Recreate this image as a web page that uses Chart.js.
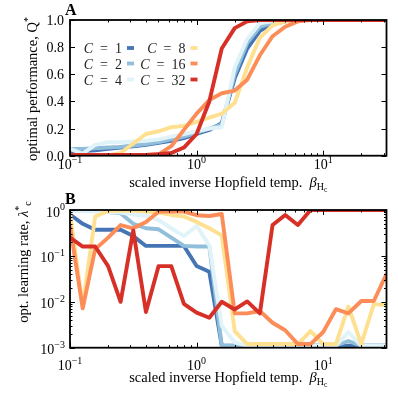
<!DOCTYPE html>
<html>
<head>
<meta charset="utf-8">
<script src="https://cdn.jsdelivr.net/npm/chart.js@4.4.1/dist/chart.umd.min.js"></script>
<style>
  html, body { margin: 0; padding: 0; background: #fff; }
  #wrap { position: relative; width: 398px; height: 398px; overflow: hidden; }
  canvas { position: absolute; left: 0; }
  #cA { top: 0; }
  #cB { top: 188px; }
</style>
</head>
<body>
<div id="wrap">
  <canvas id="cA" width="398" height="198"></canvas>
  <canvas id="cB" width="398" height="210"></canvas>
</div>
<script>
// scaled inverse Hopfield temperature (x for both panels)
var beta = [0.1, 0.126, 0.158, 0.2, 0.251, 0.316, 0.398, 0.501, 0.631, 0.794,
            1.0, 1.26, 1.58, 2.0, 2.51, 3.16, 3.98, 5.01, 6.31, 7.94,
            10.0, 12.6, 15.8, 20.0, 25.1, 31.6];

var groups = ['1', '2', '4', '8', '16', '32'];
var colors = ['#4575b4', '#91bfdb', '#e0f3f8', '#fee090', '#fc8d59', '#d73027'];

// panel A: optimal performance Q*
var perfC1  = [0.03, 0.035, 0.04, 0.05, 0.06, 0.07, 0.08, 0.095, 0.11, 0.13, 0.16, 0.19, 0.24, 0.57, 0.79, 0.92, 0.97, 0.99, 1, 1, 1, 1, 1, 1, 1, 1];
var perfC2  = [0.05, 0.05, 0.055, 0.06, 0.065, 0.075, 0.085, 0.1, 0.12, 0.14, 0.17, 0.2, 0.23, 0.6, 0.83, 0.95, 0.98, 1, 1, 1, 1, 1, 1, 1, 1, 1];
var perfC4  = [0.05, 0.015, 0.08, 0.1, 0.1, 0.105, 0.11, 0.12, 0.14, 0.16, 0.18, 0.2, 0.21, 0.65, 0.86, 0.975, 0.99, 1, 1, 1, 1, 1, 1, 1, 1, 1];
var perfC8  = [0.003, 0.003, 0.003, 0.003, 0.02, 0.09, 0.16, 0.18, 0.21, 0.22, 0.25, 0.28, 0.31, 0.39, 0.65, 0.87, 0.96, 0.99, 1, 1, 1, 1, 1, 1, 1, 1];
var perfC16 = [0.002, 0.002, 0.002, 0.002, 0.002, 0.002, 0.005, 0.01, 0.07, 0.19, 0.31, 0.41, 0.46, 0.48, 0.56, 0.74, 0.88, 0.95, 0.99, 1, 1, 1, 1, 1, 1, 1];
var perfC32 = [0.005, 0.005, 0.005, 0.005, 0.005, 0.005, 0.006, 0.012, 0.02, 0.06, 0.16, 0.4, 0.79, 0.94, 0.99, 1, 1, 1, 1, 1, 1, 1, 1, 1, 1, 1];

// panel B: optimal learning rate lambda*
var lrC1  = [0.8, 0.5, 0.37, 0.37, 0.37, 0.27, 0.165, 0.165, 0.165, 0.165, 0.06, 0.045, 0.0011, 0.0011, 0.0011, 0.0011, 0.0011, 0.0011, 0.0011, 0.0011, 0.0011, 0.0011, 0.0011, 0.0011, 0.0011, 0.0011];
var lrC2  = [1.0, 0.97, 0.95, 0.9, 0.85, 0.5, 0.4, 0.38, 0.25, 0.165, 0.16, 0.16, 0.0011, 0.0011, 0.0011, 0.0011, 0.0011, 0.0011, 0.0011, 0.0011, 0.0011, 0.0011, 0.0014, 0.0011, 0.0011, 0.0011];
var lrC4  = [0.95, 0.95, 0.92, 0.9, 0.88, 0.8, 0.75, 0.6, 0.4, 0.27, 0.45, 0.17, 0.003, 0.0013, 0.0011, 0.0011, 0.0011, 0.0011, 0.0011, 0.0011, 0.0011, 0.0011, 0.0022, 0.0011, 0.0011, 0.0011];
var lrC8  = [0.85, 0.008, 0.72, 0.95, 0.97, 0.97, 0.92, 0.88, 0.78, 0.72, 0.55, 0.4, 0.28, 0.0023, 0.0012, 0.0012, 0.0012, 0.0012, 0.0012, 0.0023, 0.0012, 0.0012, 0.0079, 0.0012, 0.0089, 0.0085];
var lrC16 = [0.45, 0.0072, 0.14, 0.25, 0.47, 0.4, 0.55, 0.92, 0.92, 0.92, 0.77, 0.74, 0.82, 0.0056, 0.0056, 0.0063, 0.0035, 0.0024, 0.0012, 0.0012, 0.0022, 0.0069, 0.0056, 0.0104, 0.0104, 0.04];
var lrC32 = [0.25, 0.16, 0.16, 0.06, 0.01, 0.36, 0.006, 0.06, 0.06, 0.009, 0.0058, 0.0045, 0.01, 0.0068, 0.0102, 0.0056, 0.47, 0.78, 0.47, 1, 1, 1, 1, 1, 1, 1];

// ticks
var betaTicks = [0.1, 1, 10];
var betaTickExp = ['\u22121', '0', '1'];
var perfTicks = [0, 0.2, 0.4, 0.6, 0.8, 1.0];
var perfTickLabels = ['0.0', '0.2', '0.4', '0.6', '0.8', '1.0'];
var lrTicks = [1, 0.1, 0.01, 0.001];
var lrTickExp = ['0', '\u22121', '\u22122', '\u22123'];

var SERIF = '"Liberation Serif", "DejaVu Serif", serif';
function F(size, style) { return (style || '') + ' ' + size + 'px ' + SERIF; }

function richWidth(ctx, parts) {
  var w = 0;
  parts.forEach(function (p) { ctx.font = p.f; w += ctx.measureText(p.t).width; });
  return w;
}
function richText(ctx, parts, x, y, align) {
  var w = richWidth(ctx, parts);
  var cx = align === 'center' ? x - w / 2 : (align === 'right' ? x - w : x);
  ctx.textAlign = 'left';
  ctx.textBaseline = 'alphabetic';
  parts.forEach(function (p) {
    ctx.font = p.f;
    ctx.fillText(p.t, cx, y + (p.dy || 0));
    cx += ctx.measureText(p.t).width;
  });
}
function tenPow(exp) {
  return [{ t: '10', f: F(14) }, { t: exp, f: F(10) , dy: -6.5 }];
}
function logMinors(lo, hi) {
  var out = [];
  for (var d = Math.floor(Math.log10(lo)); d <= Math.ceil(Math.log10(hi)); d++) {
    for (var k = 2; k <= 9; k++) {
      var v = k * Math.pow(10, d);
      if (v > lo && v < hi) out.push(v);
    }
  }
  return out;
}

// frame, inward ticks, tick labels and titles
function axesPlugin(cfg) {
  return {
    id: 'axesDeco',
    afterDraw: function (chart) {
      var ctx = chart.ctx, a = chart.chartArea;
      var xs = chart.scales.x, ys = chart.scales.y;
      ctx.save();
      ctx.strokeStyle = '#000';
      ctx.fillStyle = '#000';
      ctx.lineWidth = 1;
      function xTick(v, len) {
        var p = Math.round(xs.getPixelForValue(v)) + 0.5;
        ctx.beginPath();
        ctx.moveTo(p, a.bottom); ctx.lineTo(p, a.bottom - len);
        ctx.moveTo(p, a.top); ctx.lineTo(p, a.top + len);
        ctx.stroke();
      }
      function yTick(v, len) {
        var p = Math.round(ys.getPixelForValue(v)) + 0.5;
        ctx.beginPath();
        ctx.moveTo(a.left, p); ctx.lineTo(a.left + len, p);
        ctx.moveTo(a.right, p); ctx.lineTo(a.right - len, p);
        ctx.stroke();
      }
      betaTicks.forEach(function (v) { xTick(v, 5); });
      logMinors(xs.min, xs.max).forEach(function (v) { xTick(v, 2.5); });
      cfg.yTicks.forEach(function (v) { yTick(v, 5); });
      if (cfg.yLog) logMinors(ys.min, ys.max).forEach(function (v) { yTick(v, 2.5); });

      ctx.lineWidth = 1.8;
      ctx.strokeRect(a.left, a.top, a.right - a.left, a.bottom - a.top);

      // x tick labels
      betaTicks.forEach(function (v, i) {
        richText(ctx, tenPow(betaTickExp[i]), xs.getPixelForValue(v), cfg.xLabelY, 'center');
      });
      // y tick labels
      cfg.yTicks.forEach(function (v, i) {
        var p = ys.getPixelForValue(v);
        if (cfg.yLog) richText(ctx, tenPow(lrTickExp[i]), a.left - 5, p + 6.5, 'right');
        else richText(ctx, [{ t: perfTickLabels[i], f: F(14) }], a.left - 6, p + 5, 'right');
      });
      // x title
      richText(ctx, [
        { t: 'scaled inverse Hopfield temp.  ', f: F(14.5) },
        { t: '\u03b2', f: F(14.5, 'italic') },
        { t: 'H', f: F(10), dy: 3 },
        { t: 'c', f: F(7.5), dy: 5 }
      ], (a.left + a.right) / 2, cfg.xTitleY, 'center');
      // y title
      ctx.save();
      ctx.translate(cfg.yTitleX, cfg.yTitleY);
      ctx.rotate(-Math.PI / 2);
      richText(ctx, cfg.yTitle, 0, 0, 'center');
      ctx.restore();
      // panel letter
      richText(ctx, [{ t: cfg.letter, f: F(16, 'bold') }], 65, cfg.letterY, 'left');
      ctx.restore();
    }
  };
}

// legend: text then short colour bar, two columns
var legendPlugin = {
  id: 'cLegend',
  afterDraw: function (chart) {
    var ctx = chart.ctx;
    var colRight = [122, 185.5];
    var rowY = [48, 63.5, 79.5];
    ctx.save();
    ctx.fillStyle = '#222';
    groups.forEach(function (g, i) {
      var col = Math.floor(i / 3), row = i % 3;
      richText(ctx, [{ t: 'C', f: F(14, 'italic') }, { t: '\u2002=\u2002' + g, f: F(14) }],
        colRight[col], rowY[row] + 5, 'right');
      ctx.strokeStyle = colors[i];
      ctx.lineWidth = 3.8;
      ctx.beginPath();
      ctx.moveTo(colRight[col] + 5, rowY[row]);
      ctx.lineTo(colRight[col] + 12, rowY[row]);
      ctx.stroke();
    });
    ctx.restore();
  }
};

function makeSets(series) {
  return series.map(function (vals, i) {
    return {
      label: 'C = ' + groups[i],
      data: beta.map(function (b, j) { return { x: b, y: vals[j] }; }),
      borderColor: colors[i],
      backgroundColor: colors[i],
      borderWidth: 3.9,
      pointRadius: 0,
      tension: 0,
      borderJoinStyle: 'round',
      clip: 0,
      order: series.length - 1 - i
    };
  });
}

function baseOptions(pad, yScale) {
  return {
    responsive: false,
    animation: false,
    events: [],
    layout: { padding: pad },
    plugins: { legend: { display: false }, tooltip: { enabled: false } },
    scales: {
      x: { type: 'logarithmic', min: 0.1, max: 31.62, display: false },
      y: yScale
    }
  };
}

new Chart(document.getElementById('cA'), {
  type: 'line',
  data: { datasets: makeSets([perfC1, perfC2, perfC4, perfC8, perfC16, perfC32]) },
  options: baseOptions({ left: 70, right: 11.5, top: 20, bottom: 42.3 },
    { type: 'linear', min: 0, max: 1, display: false }),
  plugins: [axesPlugin({
    yTicks: perfTicks, yLog: false, xLabelY: 169, xTitleY: 187,
    yTitleX: 37, yTitleY: 89, letter: 'A', letterY: 15,
    yTitle: [{ t: 'optimal performance, Q', f: F(14.5) }, { t: '*', f: F(10), dy: -6 }]
  }), legendPlugin]
});

new Chart(document.getElementById('cB'), {
  type: 'line',
  data: { datasets: makeSets([lrC1, lrC2, lrC4, lrC8, lrC16, lrC32]) },
  options: baseOptions({ left: 70, right: 11.5, top: 22, bottom: 50.3 },
    { type: 'logarithmic', min: 0.001, max: 1, display: false }),
  plugins: [axesPlugin({
    yTicks: lrTicks, yLog: true, xLabelY: 182, xTitleY: 194,
    yTitleX: 28, yTitleY: 74, letter: 'B', letterY: 16,
    yTitle: [{ t: 'opt. learning rate, ', f: F(14.5) }, { t: '\u03bb', f: F(14.5, 'italic') },
             { t: '*', f: F(10), dy: -6 }, { t: 'c', f: F(10), dy: 3 }]
  })]
});
</script>
</body>
</html>
